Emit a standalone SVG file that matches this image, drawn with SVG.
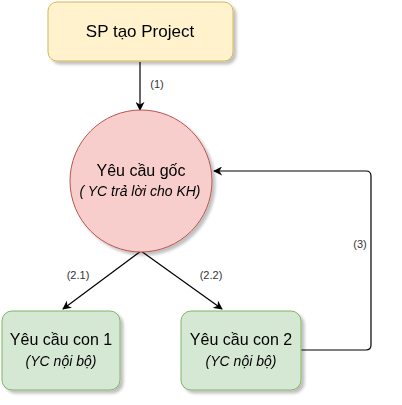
<svg xmlns="http://www.w3.org/2000/svg" width="402" height="405" viewBox="0 0 402 405">
<defs>
<filter id="sh" x="-20%" y="-20%" width="140%" height="140%"><feGaussianBlur in="SourceAlpha" stdDeviation="1.5"/><feOffset dx="3" dy="3"/><feComponentTransfer><feFuncA type="linear" slope="0.25"/></feComponentTransfer><feMerge><feMergeNode/><feMergeNode in="SourceGraphic"/></feMerge></filter>
<marker id="arr" viewBox="0 0 10 10" refX="9" refY="5" markerWidth="9" markerHeight="9" markerUnits="userSpaceOnUse" orient="auto"><path d="M0,0 L10,5 L0,10 L3,5 Z" fill="#000"/></marker>
<style>
text{font-family:"Liberation Sans",Arial,sans-serif;fill:#000;text-anchor:middle}
.t{font-size:16px}
.s{font-size:14px;font-style:italic}
.l{font-size:11px;fill:#333}
.e{fill:none;stroke:#000;stroke-width:1.2}
</style>
</defs>
<g id="connectors">
<path class="e" d="M140,62 L140,110" marker-end="url(#arr)"/>
<text class="l" x="157" y="88">(1)</text>
<path class="e" d="M141,251 L63,309" marker-end="url(#arr)"/>
<text class="l" x="78" y="279">(2.1)</text>
<path class="e" d="M141,251 L222,309" marker-end="url(#arr)"/>
<text class="l" x="211" y="279">(2.2)</text>
<path class="e" d="M301,350 L366,350 Q371,350 371,345 L371,176 Q371,171 366,171 L214,171" marker-end="url(#arr)"/>
<text class="l" x="360" y="248">(3)</text>
</g>
<g id="sp" filter="url(#sh)">
<rect x="48" y="2" width="185" height="59" rx="9" fill="#fff2cc" stroke="#d6b656"/>
<text class="t" x="140" y="37" style="font-size:17px">SP tạo Project</text>
</g>
<g id="root" filter="url(#sh)">
<circle cx="141" cy="181" r="71" fill="#f8cecc" stroke="#b85450"/>
<text class="t" x="141" y="176">Yêu cầu gốc</text>
<text class="s" x="140" y="196">( YC trả lời cho KH)</text>
</g>
<g id="child1" filter="url(#sh)">
<rect x="2" y="311" width="118" height="79" rx="10" fill="#d5e8d4" stroke="#82b366"/>
<text class="t" x="61" y="345">Yêu cầu con 1</text>
<text class="s" x="61" y="366">(YC nội bộ)</text>
</g>
<g id="child2" filter="url(#sh)">
<rect x="181" y="311" width="120" height="79" rx="10" fill="#d5e8d4" stroke="#82b366"/>
<text class="t" x="241" y="345">Yêu cầu con 2</text>
<text class="s" x="241" y="366">(YC nội bộ)</text>
</g>
</svg>
